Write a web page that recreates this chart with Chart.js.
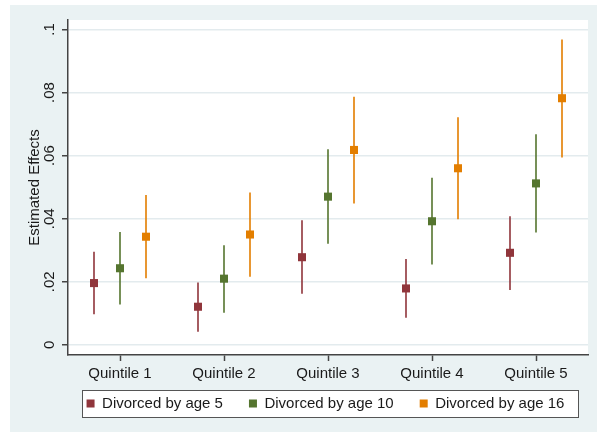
<!DOCTYPE html>
<html><head><meta charset="utf-8">
<script src="https://cdn.jsdelivr.net/npm/chart.js@4.4.0/dist/chart.umd.min.js"></script>
<style>html,body{margin:0;padding:0;background:#fff}</style>
</head><body>
<canvas id="c" width="601" height="434"></canvas>
<script>
// ---- data ----
const categories = ['Quintile 1', 'Quintile 2', 'Quintile 3', 'Quintile 4', 'Quintile 5'];
const seriesNames = ['Divorced by age 5', 'Divorced by age 10', 'Divorced by age 16'];
const age5Est = [0.0196, 0.0121, 0.0278, 0.0179, 0.0292];
const age5Lo  = [0.0097, 0.0042, 0.0162, 0.0086, 0.0174];
const age5Hi  = [0.0295, 0.0198, 0.0395, 0.0272, 0.0408];
const age10Est = [0.0243, 0.0210, 0.0470, 0.0392, 0.0512];
const age10Lo  = [0.0128, 0.0102, 0.0321, 0.0255, 0.0356];
const age10Hi  = [0.0358, 0.0316, 0.0620, 0.0530, 0.0668];
const age16Est = [0.0343, 0.0350, 0.0618, 0.0560, 0.0782];
const age16Lo  = [0.0211, 0.0216, 0.0448, 0.0398, 0.0594];
const age16Hi  = [0.0475, 0.0483, 0.0787, 0.0722, 0.0968];
const yTickValues = [0, 0.02, 0.04, 0.06, 0.08, 0.1];
const yTickLabels = ['0', '.02', '.04', '.06', '.08', '.1'];

// ---- styling ----
const colors = ['#90353B', '#55752F', '#E37E00'];
const offsets = [-0.25, 0, 0.25];
const ests = [age5Est, age10Est, age16Est];
const los = [age5Lo, age10Lo, age16Lo];
const his = [age5Hi, age10Hi, age16Hi];
const FONT = "'Liberation Sans', Arial, sans-serif";
Chart.defaults.font.family = FONT;
Chart.defaults.font.size = 15;
Chart.defaults.color = '#1a1a1a';

const datasets = [];
seriesNames.forEach((name, k) => {
  datasets.push({
    type: 'scatter', label: name,
    data: ests[k].map((v, i) => ({x: i + 1 + offsets[k], y: v})),
    pointStyle: 'rect', pointRadius: 5.7, pointHoverRadius: 5.7,
    backgroundColor: colors[k], borderColor: colors[k], borderWidth: 0
  });
});
seriesNames.forEach((name, k) => {
  const d = [];
  los[k].forEach((lo, i) => {
    const x = i + 1 + offsets[k];
    d.push({x, y: lo}, {x, y: his[k][i]}, {x, y: null});
  });
  datasets.push({
    type: 'scatter', label: name + ' CI', data: d, showLine: true, spanGaps: false,
    pointRadius: 0, pointHoverRadius: 0, borderColor: colors[k], borderWidth: 1.6
  });
});

const bgPlugin = {
  id: 'bg',
  afterUpdate(chart) {
    // centre the legend under the plot area, just below the axis labels
    const lg = chart.legend, a = chart.chartArea;
    if (!lg) return;
    lg.fit();                       // rebuild relative hit boxes
    const h = lg.height, w = lg.width;
    lg.left = (a.left + a.right) / 2 - w / 2 - 2.5; lg.right = lg.left + w;
    lg.top = a.bottom + 15; lg.bottom = lg.top + h;
    lg.adjustHitBoxes();
  },
  beforeDraw(chart) {
    const {ctx, chartArea: a} = chart;
    ctx.save();
    ctx.fillStyle = '#fff';
    ctx.fillRect(0, 0, chart.width, chart.height);
    ctx.fillStyle = '#EAF2F3';
    ctx.fillRect(10, 5, 587, 427);
    ctx.fillStyle = '#fff';
    ctx.fillRect(a.left, a.top, a.right - a.left, a.bottom - a.top);
    const hb = chart.legend && chart.legend.legendHitBoxes;
    if (hb && hb.length) {
      const l = Math.min(...hb.map(h => h.left)) - 5;
      const r = Math.max(...hb.map(h => h.left + h.width)) + 13;
      const cy = hb[0].top + hb[0].height / 2;
      const L = Math.round(l) + 0.5, T = Math.round(cy - 13.5) + 0.5;
      ctx.fillStyle = '#fff';
      ctx.fillRect(L, T, Math.round(r - l), 27);
      ctx.strokeStyle = '#555';
      ctx.lineWidth = 1;
      ctx.strokeRect(L, T, Math.round(r - l), 27);
    }
    ctx.restore();
  }
};

new Chart(document.getElementById('c'), {
  type: 'scatter',
  data: {datasets},
  plugins: [bgPlugin],
  options: {
    responsive: false, animation: false, devicePixelRatio: 1,
    layout: {padding: {left: 22, top: 20, right: 13, bottom: 0}},
    plugins: {
      tooltip: {enabled: false},
      legend: {
        position: 'bottom', fullSize: true,
        labels: {usePointStyle: true, pointStyle: 'rect', boxWidth: 8, boxHeight: 8,
                 padding: 26, color: '#1a1a1a', font: {size: 15},
                 filter: item => item.datasetIndex < 3}
      }
    },
    scales: {
      x: {
        type: 'linear', min: 0.5, max: 5.5,
        afterBuildTicks: s => { s.ticks = categories.map((c, i) => ({value: i + 1})); },
        ticks: {callback: (v, i) => categories[i], padding: 4, maxRotation: 0, autoSkip: false, color: '#1a1a1a'},
        grid: {drawOnChartArea: false, tickLength: 6, tickColor: '#444', tickWidth: 1.5},
        border: {color: '#444', width: 1.5},
        afterFit: s => { s.height = 28; }
      },
      y: {
        type: 'linear', min: -0.0032, max: 0.103,
        afterBuildTicks: s => { s.ticks = yTickValues.map(v => ({value: v})); },
        ticks: {callback: (v, i) => yTickLabels[i], minRotation: 90, maxRotation: 90, crossAlign: 'center', padding: 2, color: '#1a1a1a'},
        grid: {color: '#e3ebee', lineWidth: 1.5, tickLength: 6, tickColor: '#444', tickWidth: 1.5},
        border: {color: '#444', width: 1.5},
        title: {display: true, text: 'Estimated Effects', color: '#1a1a1a', font: {size: 15}, padding: {top: 4, bottom: 0}},
        afterFit: s => { s.width = 46; }
      }
    }
  }
});
</script>
</body></html>
